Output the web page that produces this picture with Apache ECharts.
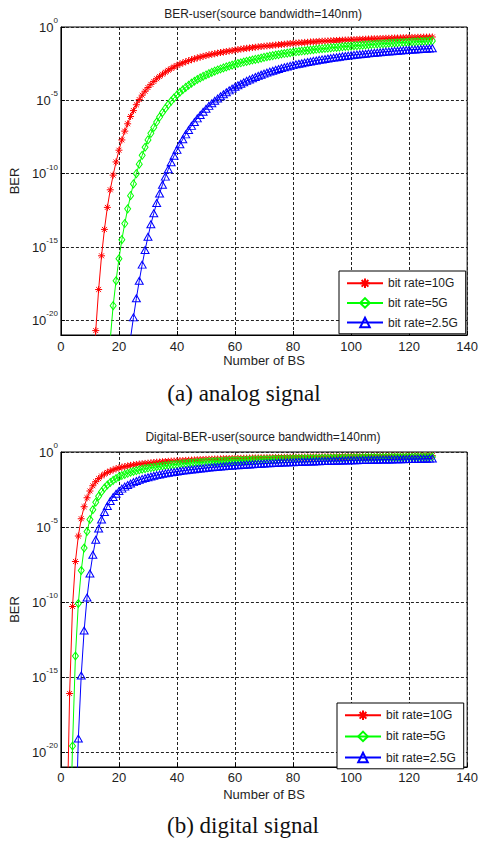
<!DOCTYPE html>
<html><head><meta charset="utf-8">
<script src="https://cdn.jsdelivr.net/npm/echarts@6/dist/echarts.min.js"></script>
<style>html,body{margin:0;padding:0;background:#fff}#c{width:481px;height:841px}</style>
</head><body><div id="c"></div>
<script>
// ---- data (exponent of BER, i.e. log10(BER)) ----
const seriesNames = ['bit rate=10G', 'bit rate=5G', 'bit rate=2.5G'];
const yTickExps = [0, -5, -10, -15, -20];
const xTickStep = 20;

const analogStart = [11, 17, 23];
const analog10G = [-24.5,-20.7,-17.9,-15.6,-13.8,-12.3,-11.1,-10.1,-9.2,-8.4,
 -7.7,-7.1,-6.6,-6.1,-5.7,-5.3,-4.95,-4.65,-4.38,-4.13,
 -3.91,-3.71,-3.53,-3.37,-3.22,-3.08,-2.95,-2.83,-2.72,-2.62,
 -2.53,-2.45,-2.37,-2.3,-2.23,-2.17,-2.11,-2.05,-2.0,-1.95,
 -1.9,-1.86,-1.82,-1.78,-1.74,-1.71,-1.67,-1.64,-1.61,-1.57,
 -1.54,-1.51,-1.48,-1.45,-1.43,-1.4,-1.38,-1.35,-1.33,-1.31,
 -1.29,-1.27,-1.25,-1.23,-1.21,-1.19,-1.17,-1.15,-1.13,-1.11,
 -1.1,-1.08,-1.07,-1.05,-1.04,-1.02,-1.01,-1.0,-0.98,-0.97,
 -0.96,-0.95,-0.94,-0.93,-0.92,-0.91,-0.9,-0.89,-0.88,-0.87,
 -0.86,-0.85,-0.84,-0.84,-0.83,-0.82,-0.81,-0.8,-0.8,-0.79,
 -0.78,-0.77,-0.77,-0.76,-0.75,-0.75,-0.74,-0.73,-0.73,-0.72,
 -0.71,-0.71,-0.7,-0.7,-0.69,-0.69,-0.68,-0.68];
const analog5G = [-21.3,-19.0,-17.3,-15.8,
 -14.5,-13.4,-12.4,-11.5,-10.7,-10.0,-9.35,-8.75,-8.2,-7.7,
 -7.25,-6.85,-6.48,-6.14,-5.83,-5.55,-5.29,-5.05,-4.83,-4.63,
 -4.45,-4.28,-4.12,-3.97,-3.83,-3.7,-3.58,-3.47,-3.37,-3.27,
 -3.18,-3.09,-3.01,-2.93,-2.86,-2.79,-2.72,-2.66,-2.6,-2.54,
 -2.49,-2.44,-2.39,-2.34,-2.3,-2.25,-2.21,-2.17,-2.12,-2.07,
 -2.03,-1.99,-1.95,-1.91,-1.88,-1.84,-1.81,-1.78,-1.75,-1.72,
 -1.69,-1.67,-1.64,-1.62,-1.59,-1.57,-1.55,-1.52,-1.5,-1.48,
 -1.46,-1.44,-1.42,-1.4,-1.39,-1.37,-1.35,-1.33,-1.32,-1.3,
 -1.28,-1.27,-1.25,-1.24,-1.22,-1.21,-1.19,-1.18,-1.16,-1.15,
 -1.14,-1.13,-1.11,-1.1,-1.09,-1.08,-1.06,-1.05,-1.04,-1.03,
 -1.02,-1.01,-1.0,-0.99,-0.98,-0.97,-0.96,-0.95];
const analog25G = [-23.0,-21.2,-19.8,-18.5,-17.3,-16.2,-15.2,-14.3,
 -13.45,-12.7,-12.0,-11.35,-10.75,-10.2,-9.7,-9.22,-8.78,-8.38,
 -8.0,-7.65,-7.32,-7.02,-6.74,-6.48,-6.23,-6.0,-5.78,-5.57,
 -5.38,-5.2,-5.03,-4.87,-4.72,-4.58,-4.45,-4.32,-4.2,-4.08,
 -3.97,-3.87,-3.77,-3.67,-3.58,-3.49,-3.41,-3.33,-3.25,-3.18,
 -3.11,-3.04,-2.98,-2.92,-2.86,-2.8,-2.75,-2.7,-2.65,-2.6,
 -2.55,-2.51,-2.47,-2.43,-2.39,-2.35,-2.31,-2.28,-2.24,-2.21,
 -2.18,-2.15,-2.12,-2.09,-2.06,-2.03,-2.0,-1.98,-1.95,-1.93,
 -1.9,-1.88,-1.86,-1.84,-1.82,-1.8,-1.78,-1.76,-1.74,-1.72,
 -1.7,-1.68,-1.67,-1.65,-1.63,-1.62,-1.6,-1.59,-1.57,-1.56,
 -1.54,-1.53,-1.52,-1.5,-1.49,-1.48,-1.47,-1.45];

const digitalStart = [2, 3, 5];
const digital10G = [-26,-16.1,-10.3,-7.3,-5.6,-4.45,-3.65,-3.05,-2.6,
 -2.25,-1.98,-1.77,-1.6,-1.47,-1.36,-1.27,-1.19,-1.12,-1.06,
 -1.01,-0.97,-0.93,-0.89,-0.86,-0.83,-0.8,-0.78,-0.76,-0.74,
 -0.72,-0.7,-0.68,-0.67,-0.65,-0.64,-0.62,-0.61,-0.6,-0.59,
 -0.58,-0.57,-0.56,-0.55,-0.54,-0.53,-0.52,-0.51,-0.5,-0.49,
 -0.485,-0.48,-0.47,-0.465,-0.46,-0.45,-0.445,-0.44,-0.435,-0.43,
 -0.425,-0.42,-0.415,-0.41,-0.405,-0.4,-0.395,-0.39,-0.386,-0.382,
 -0.378,-0.374,-0.37,-0.366,-0.362,-0.358,-0.355,-0.352,-0.349,-0.346,
 -0.343,-0.34,-0.337,-0.334,-0.331,-0.328,-0.325,-0.322,-0.32,-0.318,
 -0.316,-0.314,-0.312,-0.31,-0.308,-0.306,-0.304,-0.302,-0.3,-0.298,
 -0.296,-0.294,-0.292,-0.29,-0.288,-0.286,-0.284,-0.282,-0.28,-0.278,
 -0.276,-0.274,-0.272,-0.27,-0.268,-0.266,-0.264,-0.262,-0.26,-0.258,
 -0.256,-0.254,-0.252,-0.25,-0.248,-0.246,-0.244,-0.242];
const digital5G = [-27,-19.6,-13.6,-10.1,-7.9,-6.4,-5.3,-4.5,
 -3.85,-3.35,-2.95,-2.65,-2.4,-2.2,-2.03,-1.89,-1.77,-1.66,
 -1.57,-1.49,-1.42,-1.35,-1.29,-1.24,-1.19,-1.15,-1.11,-1.07,
 -1.04,-1.01,-0.98,-0.95,-0.93,-0.9,-0.88,-0.86,-0.84,-0.82,
 -0.8,-0.78,-0.77,-0.75,-0.74,-0.72,-0.71,-0.7,-0.69,-0.67,
 -0.66,-0.65,-0.64,-0.63,-0.62,-0.61,-0.6,-0.59,-0.585,-0.58,
 -0.57,-0.565,-0.56,-0.55,-0.545,-0.54,-0.53,-0.525,-0.52,-0.515,
 -0.51,-0.505,-0.5,-0.495,-0.49,-0.485,-0.48,-0.475,-0.47,-0.466,
 -0.462,-0.458,-0.454,-0.45,-0.446,-0.442,-0.438,-0.434,-0.43,-0.427,
 -0.424,-0.421,-0.418,-0.415,-0.412,-0.409,-0.406,-0.403,-0.4,-0.397,
 -0.394,-0.391,-0.388,-0.385,-0.382,-0.379,-0.376,-0.374,-0.372,-0.37,
 -0.368,-0.366,-0.364,-0.362,-0.36,-0.358,-0.356,-0.354,-0.352,-0.35,
 -0.348,-0.346,-0.344,-0.342,-0.34,-0.338,-0.336,-0.334];
const digital25G = [-26,-19.1,-14.9,-11.9,-9.7,-8.1,
 -6.85,-5.85,-5.1,-4.5,-4.0,-3.6,-3.27,-3.0,-2.78,-2.6,
 -2.44,-2.31,-2.2,-2.1,-2.01,-1.93,-1.86,-1.79,-1.73,-1.68,
 -1.63,-1.58,-1.54,-1.5,-1.46,-1.42,-1.39,-1.36,-1.33,-1.3,
 -1.27,-1.24,-1.22,-1.19,-1.17,-1.15,-1.12,-1.1,-1.08,-1.06,
 -1.04,-1.02,-1.0,-0.99,-0.97,-0.95,-0.94,-0.92,-0.91,-0.89,
 -0.88,-0.87,-0.85,-0.84,-0.83,-0.82,-0.81,-0.79,-0.78,-0.77,
 -0.76,-0.75,-0.74,-0.73,-0.72,-0.71,-0.7,-0.69,-0.685,-0.68,
 -0.67,-0.66,-0.655,-0.65,-0.64,-0.635,-0.63,-0.62,-0.615,-0.61,
 -0.6,-0.595,-0.59,-0.585,-0.58,-0.575,-0.57,-0.565,-0.56,-0.555,
 -0.55,-0.545,-0.54,-0.535,-0.53,-0.526,-0.522,-0.518,-0.514,-0.51,
 -0.506,-0.502,-0.498,-0.494,-0.49,-0.486,-0.482,-0.478,-0.474,-0.47,
 -0.466,-0.462,-0.458,-0.454,-0.45,-0.446,-0.442,-0.438];

// ---- styling ----
const FONT = 'Liberation Sans, Arial, Helvetica, sans-serif';
const TXT = '#1e1e1e';
const colors = ['#ff0000', '#00ff00', '#0000ff'];
const symbols = [
  'path://M0,-1L0,1M-1,0L1,0M-0.7,-0.7L0.7,0.7M-0.7,0.7L0.7,-0.7',
  'path://M0,-1L0.7,0L0,1L-0.7,0Z',
  'path://M0,-1L1,0.8L-1,0.8Z'
];
const symbolSizes = [7, [6, 8], [8, 7]];

function toData(start, arr) { return arr.map((v, i) => [start + i, v]); }

function xAxisCfg(gi, nameGap, labelMargin) {
  return {
    type: 'value', gridIndex: gi, min: 0, max: 140, interval: xTickStep,
    name: 'Number of BS', nameLocation: 'middle', nameGap: nameGap,
    nameTextStyle: { fontSize: 13, color: TXT, fontFamily: FONT },
    axisLine: { show: true, onZero: false, lineStyle: { color: '#000', width: 1 } },
    axisTick: { show: true, inside: true, length: 4, lineStyle: { color: '#000' } },
    axisLabel: { fontSize: 13, color: TXT, fontFamily: FONT, margin: labelMargin },
    splitLine: { show: true, lineStyle: { color: '#222', width: 1, type: [3, 2] } }
  };
}
function yAxisCfg(gi, nameGap) {
  return {
    type: 'value', gridIndex: gi, min: -21, max: 0, minInterval: 5, maxInterval: 5,
    name: 'BER', nameLocation: 'middle', nameGap: nameGap,
    nameTextStyle: { fontSize: 13, color: TXT, fontFamily: FONT },
    axisLine: { show: true, onZero: false, lineStyle: { color: '#000', width: 1 } },
    axisTick: { show: true, inside: true, length: 4, lineStyle: { color: '#000' } },
    axisLabel: {
      margin: 3, color: TXT, fontFamily: FONT,
      formatter: v => yTickExps.includes(v) ? '{b|10}{s|' + (v === 0 ? 0 : v) + '}' : '',
      rich: {
        b: { fontSize: 13, color: TXT, fontFamily: FONT, padding: [4, 0, 4, 0] },
        s: { fontSize: 8, color: TXT, fontFamily: FONT, verticalAlign: 'top' }
      }
    },
    splitLine: { show: true, lineStyle: { color: '#222', width: 1, type: [3, 2] } }
  };
}
function legendCfg(left, top, gap) {
  return {
    orient: 'vertical', left: left, top: top, data: seriesNames,
    padding: [5, 8, 4, 7], itemGap: gap, itemWidth: 36, itemHeight: 12,
    borderColor: '#000', borderWidth: 1, backgroundColor: '#fff', borderRadius: 0,
    textStyle: { fontSize: 12, color: TXT, fontFamily: FONT },
    selectedMode: false
  };
}
function makeSeries(gi, starts, arrs) {
  return arrs.map((arr, k) => ({
    name: seriesNames[k], type: 'line', xAxisIndex: gi, yAxisIndex: gi,
    data: toData(starts[k], arr), color: colors[k],
    symbol: symbols[k], symbolSize: symbolSizes[k], showSymbol: true, showAllSymbol: true,
    lineStyle: { color: colors[k], width: 1 },
    itemStyle: { color: 'none', borderColor: colors[k], borderWidth: 1 },
    emphasis: { disabled: true }, silent: true, clip: true, z: 3 + k
  }));
}

const chart = echarts.init(document.getElementById('c'), null, { renderer: 'svg' });
chart.setOption({
  backgroundColor: '#fff',
  animation: false,
  grid: [
    { left: 56, top: 27, width: 414, height: 308, show: true, borderColor: '#000', borderWidth: 1, backgroundColor: '#fff' },
    { left: 58, top: 452, width: 414, height: 315, show: true, borderColor: '#000', borderWidth: 1, backgroundColor: '#fff' }
  ],
  xAxis: [xAxisCfg(0, 19, 5), xAxisCfg(1, 21, 4)],
  yAxis: [yAxisCfg(0, 37), yAxisCfg(1, 39)],
  legend: [legendCfg(339, 271, 5), legendCfg(337, 703, 6.5)],
  series: makeSeries(0, analogStart, [analog10G, analog5G, analog25G])
    .concat(makeSeries(1, digitalStart, [digital10G, digital5G, digital25G])),
  graphic: [
    { type: 'text', x: 263, y: 14, silent: true,
      style: { text: 'BER-user(source bandwidth=140nm)', fill: TXT, fontSize: 12, fontFamily: FONT, align: 'center', verticalAlign: 'middle' } },
    { type: 'text', x: 263, y: 437, silent: true,
      style: { text: 'Digital-BER-user(source bandwidth=140nm)', fill: TXT, fontSize: 12, fontFamily: FONT, align: 'center', verticalAlign: 'middle' } },
    { type: 'text', x: 244, y: 393, silent: true,
      style: { text: '(a) analog signal', fill: '#111', fontSize: 23, fontFamily: 'Liberation Serif, Times New Roman, serif', align: 'center', verticalAlign: 'middle' } },
    { type: 'text', x: 243, y: 825, silent: true,
      style: { text: '(b) digital signal', fill: '#111', fontSize: 23, fontFamily: 'Liberation Serif, Times New Roman, serif', align: 'center', verticalAlign: 'middle' } }
  ]
});
</script></body></html>
